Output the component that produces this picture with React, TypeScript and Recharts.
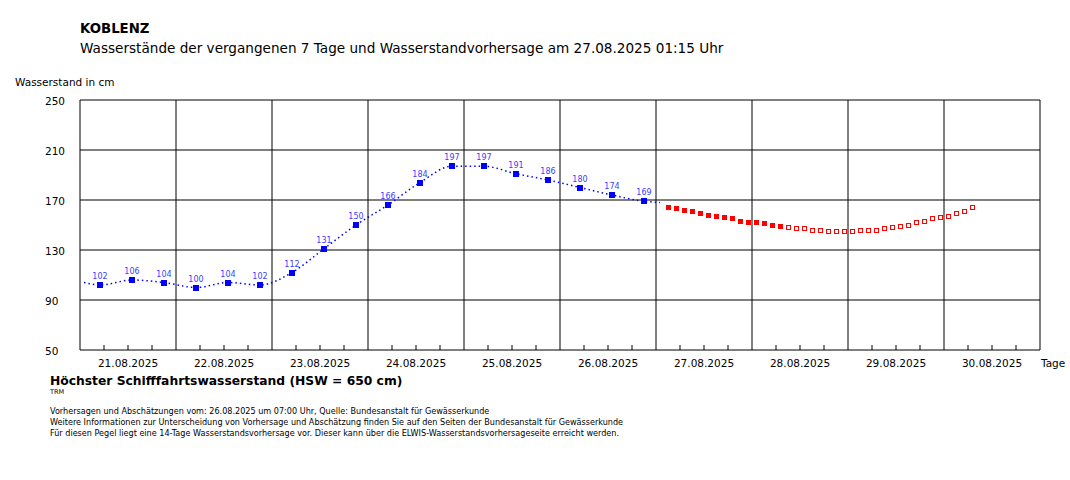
import React from 'react';
import { ComposedChart, Line, XAxis, YAxis, CartesianGrid, ReferenceLine } from 'recharts';

const FONT = '"DejaVu Sans", Verdana, sans-serif';

// day labels, one per day column (21.08. – 30.08.2025)
const days = [
  '21.08.2025', '22.08.2025', '23.08.2025', '24.08.2025', '25.08.2025',
  '26.08.2025', '27.08.2025', '28.08.2025', '29.08.2025', '30.08.2025',
];

// y axis ticks (cm)
const yTicks = [50, 90, 130, 170, 210, 250];

// measured levels, shown as squares with labels (hours since 21.08. 00:00)
const obsHours = [5, 13, 21, 29, 37, 45, 53, 61, 69, 77, 85, 93, 101, 109, 117, 125, 133, 141];
const obsValues = [102, 106, 104, 100, 104, 102, 112, 131, 150, 166, 184, 197, 197, 191, 186, 180, 174, 169];

const traceHours = [1, 5, 13, 21, 29, 37, 45, 53, 61, 69, 77, 85, 93, 101, 109, 117, 125, 133, 141, 145];
const traceValues = [104, 102, 106, 104, 100, 104, 102, 112, 131, 150, 166, 184, 197, 197, 191, 186, 180, 174, 169, 168];

// forecast (filled squares)
const fcHours = [147, 149, 151, 153, 155, 157, 159, 161, 163, 165, 167, 169, 171, 173, 175];
const fcValues = [164, 163, 162, 161, 159, 158, 157, 156, 155, 153, 152, 152, 151, 150, 149];

// estimate (hollow squares)
const estHours = [
  177, 179, 181, 183, 185, 187, 189, 191, 193, 195, 197, 199,
  201, 203, 205, 207, 209, 211, 213, 215, 217, 219, 221, 223,
];
const estValues = [
  148, 147, 147, 146, 146, 145, 145, 145, 145, 146, 146, 146,
  147, 148, 149, 150, 152, 153, 155, 156, 157, 159, 161, 164,
];

const obs = obsHours.map((t, i) => ({ t, v: obsValues[i] }));
const trace = traceHours.map((t, i) => ({ t, v: traceValues[i] }));
const fc = fcHours.map((t, i) => ({ t, v: fcValues[i] }));
const est = estHours.map((t, i) => ({ t, v: estValues[i] }));

const dayBounds = days.map((_, i) => i * 24).concat([days.length * 24]);
const xTicks = days.flatMap((_, i) => [i * 24 + 6, i * 24 + 12, i * 24 + 18]);

const PLOT_BOTTOM = 350;

const DayTick = (props: any) => {
  const { x, payload } = props;
  const t = payload.value;
  return (
    <g>
      <line x1={x} x2={x} y1={PLOT_BOTTOM} y2={PLOT_BOTTOM - 5} stroke="#000" />
      {t % 24 === 12 && (
        <text x={x} y={367} textAnchor="middle" fontSize={10.5} fontFamily={FONT} fill="#000">
          {days[Math.floor(t / 24)]}
        </text>
      )}
    </g>
  );
};

const LevelTick = (props: any) => (
  <text x={45} y={props.y + 5} textAnchor="start" fontSize={10.5} fontFamily={FONT} fill="#000">
    {props.payload.value}
  </text>
);

const obsDot = (p: any) => (
  <g key={`o-${p.index}`}>
    <rect x={p.cx - 3} y={p.cy - 3} width={6} height={6} fill="#0000ff" shapeRendering="crispEdges" />
    <text x={p.cx} y={p.cy - 6} textAnchor="middle" fontSize={8} fontFamily={FONT} fill="#4040ff">
      {p.payload.v}
    </text>
  </g>
);

const fcDot = (p: any) => (
  <rect key={`f-${p.index}`} x={p.cx - 2.5} y={p.cy - 2.5} width={5} height={5} fill="#ff0000" shapeRendering="crispEdges" />
);

const estDot = (p: any) => (
  <rect key={`e-${p.index}`} x={p.cx - 2} y={p.cy - 2} width={4} height={4} fill="#fff" stroke="#ff0000" strokeWidth={1} shapeRendering="crispEdges" />
);

export default function App() {
  return (
    <div style={{ position: 'absolute', left: 0, top: 0, width: 1070, height: 480, background: '#fff' }}>
      <ComposedChart width={1070} height={480} margin={{ top: 100, right: 30, bottom: 100, left: 40 }}>
        <CartesianGrid vertical={false} stroke="#000" />
        <XAxis
          dataKey="t"
          type="number"
          domain={[0, 240]}
          ticks={xTicks}
          interval={0}
          axisLine={false}
          tickLine={false}
          height={30}
          tick={<DayTick />}
          allowDataOverflow
        />
        <YAxis
          type="number"
          domain={[50, 250]}
          ticks={yTicks}
          interval={0}
          axisLine={false}
          tickLine={false}
          width={40}
          tick={<LevelTick />}
        />
        {dayBounds.map((d) => (
          <ReferenceLine key={d} x={d} stroke="#000" />
        ))}
        <Line
          data={trace}
          dataKey="v"
          type="monotone"
          stroke="#0000ff"
          strokeWidth={1.5}
          strokeDasharray="1.5 3"
          dot={false}
          activeDot={false}
          isAnimationActive={false}
        />
        <Line data={obs} dataKey="v" stroke="none" dot={obsDot} activeDot={false} isAnimationActive={false} />
        <Line data={fc} dataKey="v" stroke="none" dot={fcDot} activeDot={false} isAnimationActive={false} />
        <Line data={est} dataKey="v" stroke="none" dot={estDot} activeDot={false} isAnimationActive={false} />
      </ComposedChart>
      <svg width={1070} height={480} style={{ position: 'absolute', left: 0, top: 0, pointerEvents: 'none' }} fontFamily={FONT}>
        <text x={80} y={33} fontSize={13.3} fontWeight="bold">KOBLENZ</text>
        <text x={80} y={53} fontSize={13.6}>
          Wasserstände der vergangenen 7 Tage und Wasserstandvorhersage am 27.08.2025 01:15 Uhr
        </text>
        <text x={15} y={86} fontSize={10.5}>Wasserstand in cm</text>
        <text x={1041} y={367} fontSize={10.5}>Tage</text>
        <text x={50} y={385} fontSize={12.3} fontWeight="bold">
          Höchster Schifffahrtswasserstand (HSW = 650 cm)
        </text>
        <text x={50} y={394} fontSize={6.5}>TRM</text>
        <text x={50} y={414} fontSize={8.1}>
          Vorhersagen und Abschätzungen vom: 26.08.2025 um 07:00 Uhr, Quelle: Bundesanstalt für Gewässerkunde
        </text>
        <text x={50} y={425} fontSize={8.1}>
          Weitere Informationen zur Unterscheidung von Vorhersage und Abschätzung finden Sie auf den Seiten der Bundesanstalt für Gewässerkunde
        </text>
        <text x={50} y={436} fontSize={8.1}>
          Für diesen Pegel liegt eine 14-Tage Wasserstandsvorhersage vor. Dieser kann über die ELWIS-Wasserstandsvorhersageseite erreicht werden.
        </text>
      </svg>
    </div>
  );
}
